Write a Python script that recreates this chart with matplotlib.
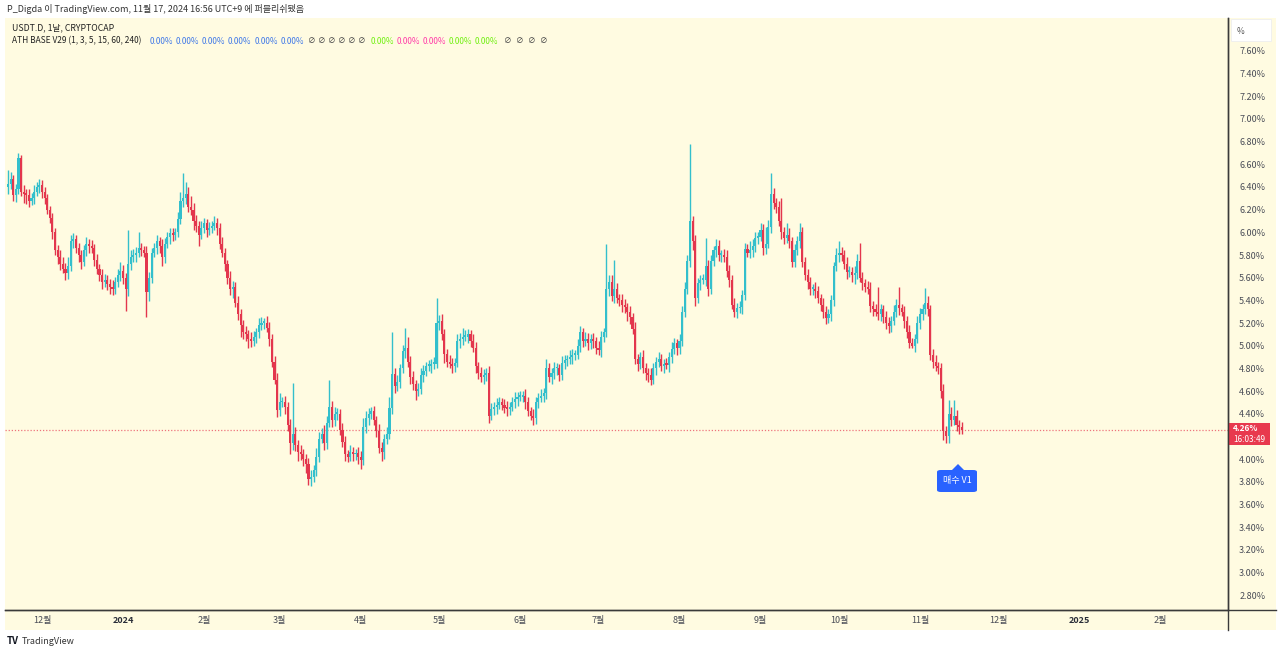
import matplotlib
matplotlib.use("Agg")
import matplotlib.pyplot as plt
import matplotlib.dates as mdates
from matplotlib.patches import Rectangle, FancyBboxPatch, Polygon
import numpy as np
import datetime as dt

plt.rcParams['font.family'] = ['Noto Sans CJK KR', 'DejaVu Sans']

# ---------------- data ----------------
start_date = dt.date(2023, 11, 18)
first_open = 6.40
closes = [
    6.43, 6.47, 6.33, 6.38, 6.66, 6.36, 6.34,
    6.33, 6.28, 6.30, 6.36, 6.40, 6.42, 6.36,
    6.30, 6.20, 6.13, 6.00, 5.84, 5.78, 5.72,
    5.68, 5.64, 5.70, 5.92, 5.94, 5.86, 5.80,
    5.74, 5.84, 5.90, 5.88, 5.86, 5.76, 5.68,
    5.62, 5.56, 5.58, 5.54, 5.52, 5.50, 5.56,
    5.62, 5.66, 5.60, 5.50, 5.72, 5.78, 5.80,
    5.82, 5.86, 5.84, 5.82, 5.47, 5.60, 5.82,
    5.86, 5.92, 5.88, 5.78, 5.90, 5.96, 5.99,
    5.98, 6.00, 6.12, 6.28, 6.30, 6.34, 6.22,
    6.20, 6.10, 6.06, 5.98, 6.04, 6.08, 6.02,
    6.04, 6.06, 6.08, 6.04, 5.90, 5.82, 5.72,
    5.60, 5.50, 5.52, 5.38, 5.28, 5.18, 5.12,
    5.10, 5.06, 5.04, 5.08, 5.12, 5.18, 5.20,
    5.20, 5.16, 5.06, 4.86, 4.70, 4.43, 4.50,
    4.50, 4.46, 4.30, 4.14, 4.22, 4.12, 4.06,
    4.04, 4.00, 3.96, 3.82, 3.84, 3.90, 4.02,
    4.18, 4.22, 4.14, 4.32, 4.46, 4.34, 4.40,
    4.40, 4.26, 4.15, 4.04, 4.02, 4.06, 4.04,
    4.05, 4.02, 3.99, 4.28, 4.36, 4.40, 4.42,
    4.34, 4.25, 4.10, 4.06, 4.18, 4.22, 4.45,
    4.75, 4.64, 4.68, 4.80, 4.95, 4.98, 4.86,
    4.72, 4.66, 4.60, 4.62, 4.74, 4.78, 4.82,
    4.82, 4.84, 4.84, 5.20, 5.22, 5.10, 4.93,
    4.86, 4.84, 4.82, 4.85, 5.04, 5.06, 5.08,
    5.08, 5.10, 5.04, 4.98, 4.82, 4.76, 4.72,
    4.74, 4.76, 4.38, 4.44, 4.46, 4.48, 4.50,
    4.48, 4.45, 4.44, 4.46, 4.50, 4.53, 4.55,
    4.55, 4.56, 4.50, 4.42, 4.38, 4.36, 4.50,
    4.54, 4.56, 4.58, 4.80, 4.72, 4.76, 4.80,
    4.80, 4.74, 4.85, 4.87, 4.88, 4.90, 4.92,
    4.92, 5.00, 5.12, 5.04, 5.06, 5.02, 5.06,
    5.04, 4.98, 4.96, 5.08, 5.12, 5.50, 5.56,
    5.44, 5.50, 5.42, 5.40, 5.36, 5.34, 5.30,
    5.25, 5.15, 4.88, 4.84, 4.90, 4.80, 4.76,
    4.74, 4.70, 4.80, 4.86, 4.88, 4.82, 4.84,
    4.83, 4.90, 4.97, 5.02, 4.98, 5.04, 5.30,
    5.50, 5.75, 6.10, 5.92, 5.42, 5.55, 5.58,
    5.58, 5.70, 5.50, 5.75, 5.84, 5.88, 5.80,
    5.80, 5.78, 5.66, 5.58, 5.36, 5.30, 5.33,
    5.34, 5.45, 5.85, 5.82, 5.84, 5.88, 5.95,
    5.96, 6.02, 5.86, 5.90, 6.05, 6.34, 6.26,
    6.22, 6.10, 6.00, 5.95, 5.98, 5.92, 5.74,
    5.84, 5.92, 6.00, 5.74, 5.62, 5.56, 5.50,
    5.50, 5.48, 5.42, 5.36, 5.30, 5.24, 5.28,
    5.40, 5.70, 5.80, 5.82, 5.80, 5.72, 5.65,
    5.65, 5.62, 5.64, 5.75, 5.60, 5.55, 5.52,
    5.50, 5.35, 5.32, 5.30, 5.28, 5.32, 5.25,
    5.20, 5.17, 5.22, 5.30, 5.36, 5.33, 5.30,
    5.22, 5.12, 5.02, 5.00, 5.06, 5.20, 5.28,
    5.32, 5.38, 5.32, 4.92, 4.86, 4.82, 4.80,
    4.60, 4.25, 4.20, 4.40, 4.34, 4.38, 4.30,
    4.28, 4.26,
]
# upper / lower wick lengths beyond the body, in hundredths of a percent
hi_ext = [
    12, 6, 4, 5, 4, 2, 6,   4, 5, 5, 6, 4, 5, 4,   4, 4, 3, 4, 4, 5, 6,
    6, 5, 8, 6, 5, 4, 5,    4, 5, 6, 4, 5, 4, 5,   4, 6, 5, 4, 5, 6, 5,
    6, 8, 5, 4, 30, 6, 5,   5, 14, 5, 4, 6, 5, 4,  5, 6, 4, 6, 5, 4, 5,
    5, 4, 6, 8, 22, 10, 6,  10, 6, 5, 4, 6, 5, 4,  5, 4, 6, 5, 4, 6, 4,
    4, 6, 5, 4, 6, 4, 5,    5, 4, 6, 5, 4, 6, 5,   4, 6, 5, 4, 5, 6, 8,
    5, 6, 4, 5, 45, 6, 5,   6, 5, 4, 5, 6, 5, 8,   6, 5, 8, 6, 24, 5, 6,
    5, 4, 6, 5, 4, 6, 5,    4, 6, 5, 8, 6, 5, 4,   5, 4, 6, 5, 4, 6, 10,
    37, 5, 6, 4, 6, 18, 10, 5, 6, 4, 5, 6, 5, 4,   5, 4, 6, 22, 5, 6, 5,
    4, 6, 5, 4, 6, 5, 8,    6, 5, 4, 6, 5, 4, 5,   5, 4, 6, 5, 4, 6, 5,
    4, 5, 6, 4, 5, 6, 4,    5, 4, 6, 5, 4, 6, 5,   4, 6, 5, 8, 5, 4, 6,
    5, 4, 6, 5, 4, 6, 5,    4, 6, 5, 4, 6, 5, 4,   5, 4, 6, 5, 4, 40, 6,
    6, 26, 5, 4, 6, 5, 4,   5, 4, 6, 5, 4, 6, 5,   4, 6, 5, 4, 6, 5, 4,
    5, 4, 6, 5, 4, 6, 5,    6, 5, 68, 4, 6, 5, 4,  5, 25, 6, 5, 4, 6, 5,
    4, 5, 6, 5, 4, 6, 5,    5, 4, 6, 5, 8, 6, 5,   4, 6, 5, 15, 6, 18, 5,
    4, 6, 20, 5, 10, 6, 4,  6, 5, 8, 5, 4, 6, 5,   4, 6, 5, 4, 6, 5, 4,
    5, 4, 6, 10, 5, 4, 6,   5, 4, 6, 6, 16, 5, 4,  5, 6, 4, 5, 22, 5, 4,
    6, 5, 4, 6, 5, 16, 4,   5, 4, 6, 5, 4, 6, 5,   5, 13, 6, 4, 5, 6, 4,
    5, 6, 4, 12, 6, 14, 5,  4, 5,
]
lo_ext = [
    6, 5, 5, 6, 4, 4, 8,    8, 6, 4, 5, 4, 5, 6,   5, 4, 5, 6, 4, 6, 5,
    4, 6, 5, 4, 6, 4, 6,    6, 4, 5, 6, 4, 6, 5,   5, 6, 4, 5, 6, 5, 4,
    4, 5, 6, 19, 6, 5, 4,   6, 4, 5, 4, 22, 8, 5,  4, 5, 6, 8, 5, 4, 6,
    6, 5, 4, 5, 6, 5, 4,    5, 8, 6, 10, 4, 5, 6,  4, 5, 4, 6, 5, 4, 6,
    6, 5, 8, 4, 5, 10, 6,   6, 8, 5, 4, 6, 5, 4,   5, 4, 6, 5, 4, 6, 5,
    4, 6, 5, 10, 6, 5, 8,   5, 6, 8, 5, 6, 4, 5,   5, 4, 6, 5, 4, 6, 5,
    6, 5, 4, 6, 5, 4, 6,    5, 6, 8, 4, 5, 6, 5,   4, 6, 5, 8, 6, 5, 4,
    5, 6, 4, 5, 4, 6, 5,    6, 5, 8, 4, 5, 6, 5,   4, 6, 5, 4, 6, 5, 8,
    5, 4, 6, 5, 4, 6, 5,    4, 6, 5, 4, 6, 5, 4,   6, 5, 6, 4, 5, 6, 4,
    5, 4, 6, 5, 4, 5, 6,    4, 5, 6, 4, 4, 6, 5,   5, 4, 6, 5, 4, 6, 5,
    6, 5, 4, 6, 5, 4, 6,    5, 4, 6, 5, 4, 6, 5,   6, 5, 4, 6, 5, 4, 6,
    5, 6, 4, 5, 6, 5, 8,    6, 5, 4, 6, 5, 4, 6,   6, 5, 4, 6, 5, 4, 6,
    4, 6, 5, 4, 6, 5, 4,    5, 4, 6, 8, 7, 4, 6,   4, 5, 6, 4, 5, 6, 5,
    6, 4, 5, 6, 4, 5, 6,    4, 6, 5, 4, 5, 6, 5,   5, 4, 6, 5, 4, 6, 5,
    5, 4, 6, 5, 4, 6, 5,    5, 4, 6, 5, 4, 6, 5,   5, 6, 4, 5, 6, 5, 4,
    6, 5, 4, 6, 5, 4, 6,    4, 6, 8, 5, 4, 6, 5,   4, 5, 6, 4, 5, 6, 5,
    5, 6, 5, 4, 5, 6, 4,    6, 5, 4, 2, 6, 4, 5,   5, 4, 6, 5, 6, 4, 5,
    6, 8, 6, 6, 5, 4, 5,    6, 4,
]
last_price = 4.26
price_ticks = [2.80, 3.00, 3.20, 3.40, 3.60, 3.80, 4.00, 4.20, 4.40, 4.60, 4.80,
               5.00, 5.20, 5.40, 5.60, 5.80, 6.00, 6.20, 6.40, 6.60, 6.80, 7.00,
               7.20, 7.40, 7.60]
time_ticks = [dt.date(2023, 12, 1), dt.date(2024, 1, 1), dt.date(2024, 2, 1),
              dt.date(2024, 3, 1), dt.date(2024, 4, 1), dt.date(2024, 5, 1),
              dt.date(2024, 6, 1), dt.date(2024, 7, 1), dt.date(2024, 8, 1),
              dt.date(2024, 9, 1), dt.date(2024, 10, 1), dt.date(2024, 11, 1),
              dt.date(2024, 12, 1), dt.date(2025, 1, 1), dt.date(2025, 2, 1)]
time_labels = ['12월', '2024', '2월', '3월', '4월', '5월', '6월', '7월', '8월',
               '9월', '10월', '11월', '12월', '2025', '2월']

# ---------------- layout ----------------
W, H = 1280, 654
fig = plt.figure(figsize=(W / 100, H / 100), dpi=100, facecolor='white')
BG = '#FFFBE1'
UP = '#33BFCC'
DN = '#E3364D'


def fx(x):
    return x / W


def fy(y):
    return 1 - y / H


# cream panel incl. price & time scale (behind the axes)
fig.patches.append(Rectangle((fx(5), fy(630)), fx(1276) - fx(5), fy(18) - fy(630),
                             transform=fig.transFigure, facecolor=BG, edgecolor='none', zorder=-5))

ax_l, ax_r, ax_t, ax_b = 5, 1228, 18, 610
ax = fig.add_axes([fx(ax_l), fy(ax_b), fx(ax_r) - fx(ax_l), fy(ax_t) - fy(ax_b)])
ax.set_facecolor(BG)
ax.set_zorder(1)

closes = np.array(closes)
opens = np.concatenate([[first_open], closes[:-1]])
highs = np.maximum(opens, closes) + np.array(hi_ext) / 100.0
lows = np.minimum(opens, closes) - np.array(lo_ext) / 100.0
t0 = mdates.date2num(start_date)
xs = t0 + np.arange(len(closes))
up = closes >= opens
cols = np.where(up, UP, DN)

ax.vlines(xs, lows, highs, colors=cols, linewidth=1.0, zorder=2)
body_h = np.abs(closes - opens)
body_h = np.maximum(body_h, 0.015)
ax.bar(xs, body_h, bottom=np.minimum(opens, closes), width=0.8, color=cols,
       edgecolor='none', zorder=3)

ax.set_xlim(t0 - 1.15, t0 + 466.9)
ax.set_ylim(2.668, 7.891)

ax.axhline(last_price, color='#E63A52', linewidth=0.9, linestyle=(0, (1, 1.5)), alpha=0.7, zorder=1)

for s in ['top', 'left']:
    ax.spines[s].set_visible(False)
ax.spines['right'].set_color('#3a3a3a')
ax.spines['right'].set_linewidth(1)
ax.spines['bottom'].set_color('#3a3a3a')
ax.spines['bottom'].set_linewidth(1)

ax.yaxis.tick_right()
ax.set_yticks(price_ticks)
# the 4.20% label is hidden under the last-price tag in the reference
ax.set_yticklabels(['' if abs(v - 4.20) < 1e-9 else f'{v:.2f}%' for v in price_ticks])
ax.tick_params(axis='y', length=0, pad=8, labelsize=6.5, labelcolor='#4a4d57')
ax.set_xticks([mdates.date2num(d) for d in time_ticks])
ax.set_xticklabels(time_labels)
ax.tick_params(axis='x', length=0, pad=4, labelsize=6.5, labelcolor='#4a4d57')
for lbl in ax.get_xticklabels():
    if lbl.get_text() in ('2024', '2025'):
        lbl.set_fontweight('bold')
        lbl.set_color('#2a2e39')

# separator lines extending into the scales
fig.add_artist(plt.Line2D([fx(5), fx(1276)], [fy(610), fy(610)], color='#3a3a3a', lw=1,
                          transform=fig.transFigure, zorder=5))
fig.add_artist(plt.Line2D([fx(1228), fx(1228)], [fy(18), fy(630)], color='#3a3a3a', lw=1,
                          transform=fig.transFigure, zorder=5))

# % box
fig.patches.append(Rectangle((fx(1231), fy(41)), fx(40), fy(0) - fy(22),
                             transform=fig.transFigure, facecolor='white', edgecolor='#eeeeee',
                             lw=0.6, zorder=3))
fig.text(fx(1237), fy(31), '%', fontsize=6, color='#555', va='center', ha='left', zorder=4)

# last price label
fig.patches.append(Rectangle((fx(1229), fy(445)), fx(41), fy(0) - fy(22),
                             transform=fig.transFigure, facecolor='#E8394E', edgecolor='none', zorder=3))
fig.text(fx(1233), fy(428.5), '4.26%', fontsize=6, color='white', fontweight='bold',
         va='center', ha='left', zorder=4)
fig.text(fx(1233), fy(439.5), '16:03:49', fontsize=5.8, color='white', va='center', ha='left', zorder=4)

# callout 매수 V1
fig.patches.append(FancyBboxPatch((fx(937), fy(492)), fx(40), fy(0) - fy(22),
                                  boxstyle='round,pad=0,rounding_size=0.003',
                                  transform=fig.transFigure, facecolor='#2962FF', edgecolor='none', zorder=5))
fig.patches.append(Polygon([(fx(951), fy(471)), (fx(965), fy(471)), (fx(958), fy(464))],
                           closed=True, transform=fig.transFigure, facecolor='#2962FF',
                           edgecolor='none', zorder=5))
fig.text(fx(957), fy(481), '매수 V1', fontsize=6.5, color='white', va='center', ha='center', zorder=6)

# header
fig.text(fx(7), fy(9), 'P_Digda 이 TradingView.com, 11월 17, 2024 16:56 UTC+9 에 퍼블리쉬됐음',
         fontsize=6.5, color='#333', va='center', ha='left')
fig.text(fx(12), fy(28), 'USDT.D, 1날, CRYPTOCAP', fontsize=6.3, color='#222', va='center', ha='left', zorder=6)
fig.text(fx(12), fy(41), 'ATH BASE V29 (1, 3, 5, 15, 60, 240)', fontsize=6.0, color='#222',
         va='center', ha='left', zorder=6)
blue_x = [150, 176, 202, 228, 255, 281]
for x in blue_x:
    fig.text(fx(x), fy(41), '0.00%', fontsize=5.9, color='#3F78E8', va='center', ha='left', zorder=6)
for x in [308, 318, 328, 338, 348, 358]:
    fig.text(fx(x), fy(41), '∅', fontsize=5.5, color='#444', va='center', ha='left', zorder=6)
for x, c in [(371, '#70F010'), (397, '#FF3AA8'), (423, '#FF3AA8'), (449, '#70F010'), (475, '#70F010')]:
    fig.text(fx(x), fy(41), '0.00%', fontsize=5.9, color=c, va='center', ha='left', zorder=6)
for x in [504, 516, 528, 540]:
    fig.text(fx(x), fy(41), '∅', fontsize=5.5, color='#444', va='center', ha='left', zorder=6)

# footer logo
fig.text(fx(7), fy(641), 'TV', fontsize=7, color='#131722', fontweight='bold', va='center', ha='left')
fig.text(fx(22), fy(641), 'TradingView', fontsize=6.5, color='#333', va='center', ha='left')

fig.savefig('out.png', dpi=100, facecolor='white')
